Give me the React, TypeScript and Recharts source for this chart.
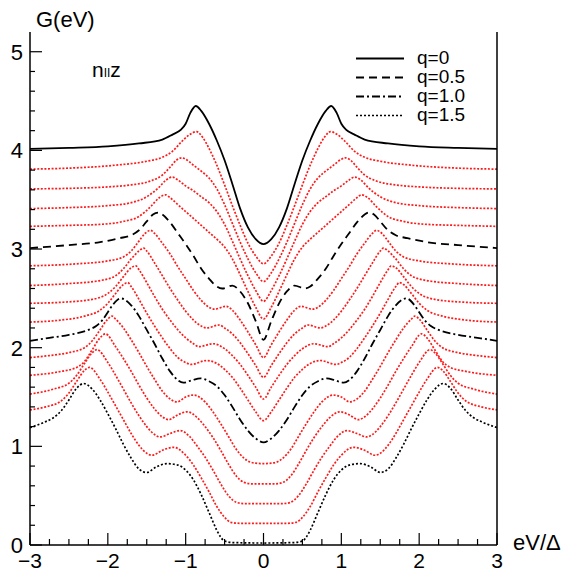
import React from 'react';
import { LineChart, Line, XAxis, YAxis } from 'recharts';

// right half of each curve (x >= 0); the curves are symmetric in eV/Δ
const q00 = [[0,3.05],[0.1,3.1],[0.2,3.22],[0.3,3.41],[0.4,3.66],[0.5,3.9],[0.6,4.1],[0.7,4.27],[0.8,4.4],[0.87,4.45],[0.94,4.38],[1.0,4.27],[1.06,4.21],[1.17,4.16],[1.3,4.11],[1.6,4.07],[2.0,4.04],[2.5,4.025],[3,4.015]];
const q01 = [[0,2.85],[0.1,2.93],[0.2,3.06],[0.3,3.24],[0.4,3.44],[0.5,3.65],[0.6,3.85],[0.7,4.02],[0.78,4.13],[0.86,4.19],[0.95,4.16],[1.05,4.09],[1.17,3.99],[1.3,3.93],[1.5,3.89],[1.9,3.85],[2.5,3.82],[3,3.81]];
const q02 = [[0,2.67],[0.1,2.76],[0.2,2.9],[0.3,3.07],[0.4,3.26],[0.5,3.45],[0.6,3.61],[0.7,3.72],[0.8,3.79],[0.9,3.85],[1.0,3.91],[1.05,3.925],[1.12,3.9],[1.2,3.83],[1.3,3.75],[1.45,3.69],[1.7,3.65],[2.0,3.63],[2.5,3.615],[3,3.61]];
const q03 = [[0,2.47],[0.1,2.58],[0.2,2.73],[0.3,2.9],[0.4,3.08],[0.5,3.25],[0.6,3.38],[0.7,3.47],[0.8,3.53],[0.9,3.59],[1.0,3.64],[1.1,3.7],[1.17,3.73],[1.25,3.7],[1.35,3.62],[1.5,3.53],[1.7,3.47],[2.0,3.44],[2.5,3.42],[3,3.41]];
const q04 = [[0,2.29],[0.1,2.41],[0.2,2.57],[0.3,2.74],[0.4,2.9],[0.5,3.02],[0.6,3.1],[0.7,3.17],[0.8,3.24],[0.9,3.31],[1.0,3.38],[1.1,3.45],[1.2,3.52],[1.26,3.55],[1.34,3.52],[1.45,3.43],[1.6,3.33],[1.8,3.28],[2.1,3.25],[2.5,3.24],[3,3.23]];
const q05 = [[0,2.08],[0.1,2.27],[0.2,2.45],[0.3,2.57],[0.4,2.63],[0.53,2.6],[0.6,2.62],[0.7,2.7],[0.8,2.8],[0.9,2.93],[1.0,3.05],[1.1,3.16],[1.2,3.27],[1.3,3.35],[1.35,3.37],[1.42,3.35],[1.5,3.28],[1.6,3.19],[1.7,3.14],[1.85,3.11],[2.1,3.07],[2.5,3.04],[3,3.01]];
const q06 = [[0,1.9],[0.1,2.03],[0.2,2.16],[0.3,2.28],[0.4,2.38],[0.48,2.42],[0.63,2.39],[0.7,2.41],[0.8,2.48],[0.9,2.58],[1.0,2.7],[1.1,2.82],[1.2,2.95],[1.3,3.06],[1.4,3.16],[1.45,3.19],[1.52,3.16],[1.6,3.08],[1.7,2.98],[1.8,2.92],[2.0,2.88],[2.4,2.85],[3,2.83]];
const q07 = [[0,1.7],[0.1,1.82],[0.2,1.94],[0.3,2.05],[0.4,2.14],[0.5,2.2],[0.57,2.23],[0.73,2.2],[0.8,2.22],[0.9,2.28],[1.0,2.37],[1.1,2.48],[1.2,2.6],[1.3,2.73],[1.4,2.86],[1.5,2.98],[1.54,3.01],[1.6,2.98],[1.7,2.9],[1.8,2.8],[1.9,2.73],[2.1,2.68],[2.5,2.65],[3,2.63]];
const q08 = [[0,1.48],[0.1,1.6],[0.2,1.72],[0.3,1.83],[0.4,1.92],[0.5,1.99],[0.65,2.04],[0.83,2.01],[0.9,2.04],[1.0,2.1],[1.1,2.18],[1.2,2.28],[1.3,2.39],[1.4,2.52],[1.5,2.66],[1.6,2.79],[1.64,2.83],[1.7,2.81],[1.8,2.72],[1.9,2.62],[2.0,2.55],[2.2,2.49],[2.6,2.46],[3,2.45]];
const q09 = [[0,1.26],[0.1,1.35],[0.2,1.47],[0.3,1.59],[0.4,1.7],[0.5,1.78],[0.6,1.84],[0.73,1.87],[0.93,1.83],[1.0,1.85],[1.1,1.9],[1.2,1.99],[1.3,2.1],[1.4,2.22],[1.5,2.35],[1.6,2.49],[1.7,2.62],[1.745,2.66],[1.8,2.64],[1.9,2.55],[2.0,2.45],[2.1,2.38],[2.3,2.32],[2.6,2.28],[3,2.26]];
const q10 = [[0,1.04],[0.1,1.08],[0.2,1.16],[0.3,1.27],[0.4,1.4],[0.5,1.52],[0.6,1.61],[0.7,1.66],[0.81,1.69],[0.92,1.67],[1.03,1.645],[1.1,1.67],[1.2,1.76],[1.3,1.89],[1.4,2.04],[1.5,2.18],[1.6,2.32],[1.7,2.43],[1.835,2.5],[1.94,2.43],[2.0,2.36],[2.07,2.28],[2.15,2.22],[2.25,2.18],[2.5,2.13],[2.75,2.1],[3,2.07]];
const q11 = [[0,0.825],[0.1,0.83],[0.17,0.84],[0.25,0.88],[0.35,0.97],[0.45,1.1],[0.55,1.23],[0.65,1.35],[0.75,1.45],[0.9,1.52],[1.0,1.5],[1.11,1.45],[1.2,1.48],[1.3,1.56],[1.4,1.68],[1.5,1.81],[1.6,1.95],[1.7,2.08],[1.8,2.2],[1.9,2.29],[1.945,2.32],[2.0,2.29],[2.1,2.18],[2.2,2.07],[2.3,2.0],[2.5,1.95],[2.75,1.92],[3,1.9]];
const q12 = [[0,0.62],[0.15,0.62],[0.25,0.635],[0.35,0.7],[0.45,0.82],[0.55,0.96],[0.65,1.09],[0.75,1.2],[0.85,1.29],[0.98,1.35],[1.1,1.32],[1.22,1.27],[1.3,1.3],[1.4,1.38],[1.5,1.49],[1.6,1.62],[1.7,1.76],[1.8,1.89],[1.9,2.01],[2.03,2.14],[2.1,2.1],[2.2,1.98],[2.3,1.86],[2.4,1.8],[2.6,1.76],[3,1.72]];
const q13 = [[0,0.42],[0.25,0.42],[0.34,0.43],[0.45,0.5],[0.55,0.62],[0.65,0.76],[0.75,0.89],[0.85,1.0],[0.95,1.1],[1.07,1.16],[1.2,1.13],[1.33,1.095],[1.4,1.12],[1.5,1.2],[1.6,1.31],[1.7,1.44],[1.8,1.58],[1.9,1.72],[2.0,1.85],[2.14,1.98],[2.2,1.95],[2.3,1.84],[2.4,1.72],[2.5,1.64],[2.7,1.58],[3,1.53]];
const q14 = [[0,0.22],[0.3,0.22],[0.42,0.23],[0.5,0.28],[0.6,0.39],[0.7,0.54],[0.8,0.68],[0.9,0.81],[1.0,0.91],[1.155,0.99],[1.3,0.96],[1.43,0.91],[1.5,0.93],[1.6,1.01],[1.7,1.13],[1.8,1.27],[1.9,1.41],[2.0,1.55],[2.1,1.68],[2.235,1.8],[2.3,1.77],[2.4,1.66],[2.5,1.54],[2.6,1.46],[2.8,1.4],[3,1.37]];
const q15 = [[0,0.02],[0.4,0.025],[0.5,0.04],[0.55,0.08],[0.6,0.15],[0.7,0.33],[0.8,0.51],[0.9,0.66],[1.0,0.76],[1.1,0.81],[1.24,0.825],[1.38,0.79],[1.5,0.735],[1.6,0.77],[1.7,0.88],[1.8,1.02],[1.9,1.18],[2.0,1.33],[2.1,1.47],[2.2,1.58],[2.31,1.637],[2.4,1.59],[2.5,1.47],[2.6,1.36],[2.7,1.29],[2.8,1.25],[3,1.19]];

const curves = [q00, q01, q02, q03, q04, q05, q06, q07, q08, q09, q10, q11, q12, q13, q14, q15];

const xTicks = [-3, -2.75, -2.5, -2.25, -2, -1.75, -1.5, -1.25, -1, -0.75, -0.5, -0.25, 0, 0.25, 0.5, 0.75, 1, 1.25, 1.5, 1.75, 2, 2.25, 2.5, 2.75, 3];
const yTicks = [0, 0.2, 0.4, 0.6, 0.8, 1, 1.2, 1.4, 1.6, 1.8, 2, 2.2, 2.4, 2.6, 2.8, 3, 3.2, 3.4, 3.6, 3.8, 4, 4.2, 4.4, 4.6, 4.8, 5];

const legendItems = [
  { label: 'q=0', curve: 0 },
  { label: 'q=0.5', curve: 5 },
  { label: 'q=1.0', curve: 10 },
  { label: 'q=1.5', curve: 15 },
];

const FONT = '"Liberation Sans", Arial, Helvetica, sans-serif';

const mirror = (half: number[][]) => [
  ...half.slice(1).reverse().map(([x, y]) => ({ x: -x, y })),
  ...half.map(([x, y]) => ({ x, y })),
];

const styleFor = (i: number) => {
  if (i === 0) return { stroke: '#000', dash: undefined, width: 1.8 };
  if (i === 5) return { stroke: '#000', dash: '8 5', width: 1.8 };
  if (i === 10) return { stroke: '#000', dash: '8 3 2 3', width: 1.8 };
  if (i === 15) return { stroke: '#000', dash: '2 2', width: 1.7 };
  return { stroke: '#ff1a1a', dash: '2 1.6', width: 1.7 };
};

const isMajor = (v: number) => Math.abs(v - Math.round(v)) < 1e-6;
const fmt = (v: number) => (v < 0 ? '\u2212' + Math.abs(v) : String(v));

const BottomTick = ({ x, y, payload }: any) => {
  const major = isMajor(payload.value);
  return (
    <g>
      <line x1={x} y1={y} x2={x} y2={y - (major ? 12 : 6)} stroke="#000" strokeWidth={1.2} />
      {major && (
        <text x={x} y={y + 23} textAnchor="middle" fontSize={21} fontFamily={FONT} fill="#000">
          {fmt(payload.value)}
        </text>
      )}
    </g>
  );
};

const TopTick = ({ x, y, payload }: any) => {
  const major = isMajor(payload.value);
  return <line x1={x} y1={y} x2={x} y2={y + (major ? 12 : 6)} stroke="#000" strokeWidth={1.2} />;
};

const LeftTick = ({ x, y, payload }: any) => {
  const major = isMajor(payload.value);
  return (
    <g>
      <line x1={x} y1={y} x2={x + (major ? 12 : 5)} y2={y} stroke="#000" strokeWidth={1.2} />
      {major && (
        <text x={x - 7} y={y + 8} textAnchor="end" fontSize={22} fontFamily={FONT} fill="#000">
          {fmt(payload.value)}
        </text>
      )}
    </g>
  );
};

const RightTick = ({ x, y, payload }: any) => {
  const major = isMajor(payload.value);
  return <line x1={x} y1={y} x2={x - (major ? 12 : 5)} y2={y} stroke="#000" strokeWidth={1.2} />;
};

export default function App() {
  const axisLine = { stroke: '#000', strokeWidth: 1.5 };
  return (
    <div style={{ position: 'absolute', left: 0, top: 0, width: 562, height: 572, background: '#fff' }}>
      <LineChart width={562} height={572} margin={{ top: 32, right: 0, bottom: 0, left: 0 }}>
        <XAxis xAxisId="b" dataKey="x" type="number" domain={[-3, 3]} ticks={xTicks} interval={0}
          orientation="bottom" height={27} tickSize={0} tickMargin={0} tick={<BottomTick />} axisLine={axisLine} />
        <XAxis xAxisId="t" dataKey="x" type="number" domain={[-3, 3]} ticks={xTicks} interval={0}
          orientation="top" height={0} tickSize={0} tickMargin={0} tick={<TopTick />} axisLine={axisLine} />
        <YAxis yAxisId="l" type="number" domain={[0, 5.2]} ticks={yTicks} interval={0}
          orientation="left" width={30} tickSize={0} tickMargin={0} tick={<LeftTick />} axisLine={axisLine} />
        <YAxis yAxisId="r" type="number" domain={[0, 5.2]} ticks={yTicks} interval={0}
          orientation="right" width={65} tickSize={0} tickMargin={0} tick={<RightTick />} axisLine={axisLine} />
        {curves.map((c, i) => {
          const s = styleFor(i);
          return (
            <Line key={i} xAxisId="b" yAxisId="l" data={mirror(c)} dataKey="y" type="monotone"
              stroke={s.stroke} strokeWidth={s.width} strokeDasharray={s.dash} dot={false}
              activeDot={false} isAnimationActive={false} />
          );
        })}
      </LineChart>
      <svg width={562} height={572} style={{ position: 'absolute', left: 0, top: 0, pointerEvents: 'none' }}>
        <text x={36} y={27} fontSize={22} fontFamily={FONT} fill="#000">G(eV)</text>
        <text x={513} y={550} fontSize={22} fontFamily={FONT} fill="#000">eV/Δ</text>
        <text x={92} y={77} fontSize={21} fontFamily={FONT} fill="#000">
          n<tspan fontSize={12}>II</tspan>z
        </text>
        {legendItems.map((it, i) => {
          const s = styleFor(it.curve);
          return (
            <g key={it.label}>
              <line x1={356} x2={404} y1={58.5 + i * 19} y2={58.5 + i * 19} stroke="#000"
                strokeWidth={s.width} strokeDasharray={s.dash} />
              <text x={417} y={63.5 + i * 19} fontSize={19} fontFamily={FONT} fill="#000">{it.label}</text>
            </g>
          );
        })}
      </svg>
    </div>
  );
}
